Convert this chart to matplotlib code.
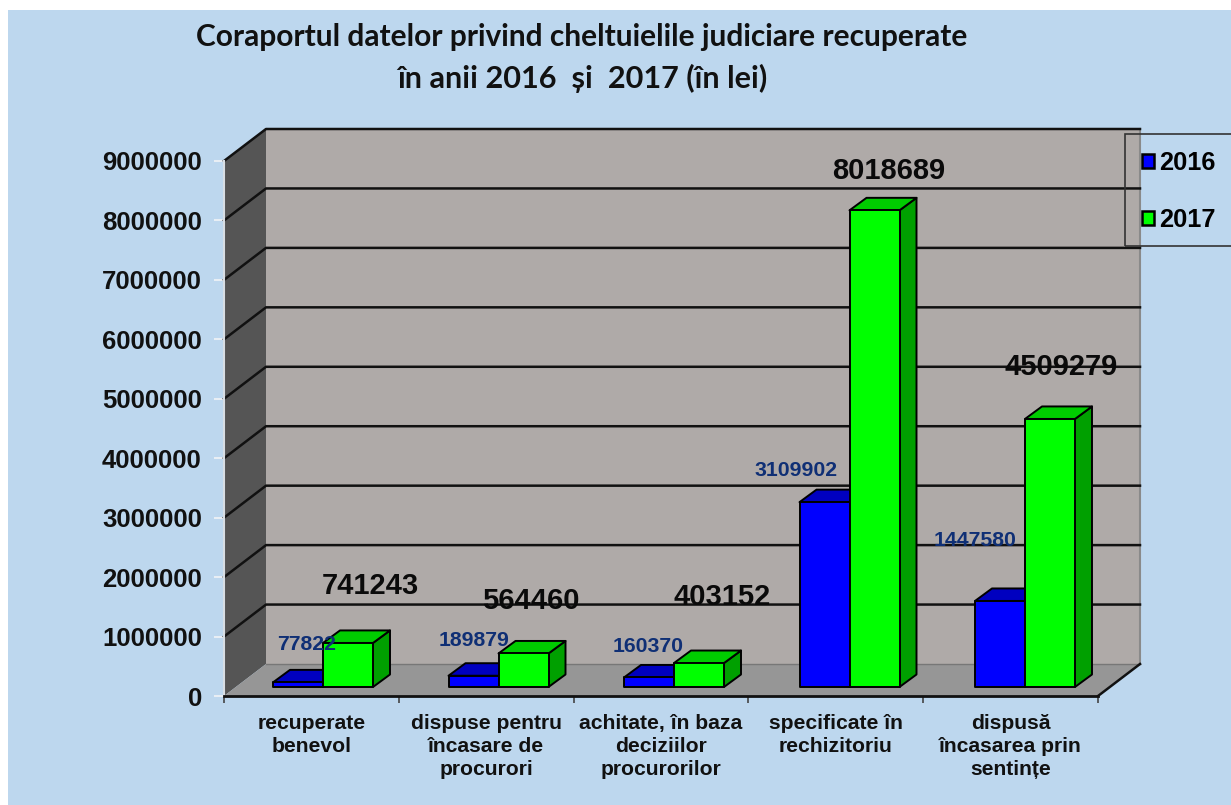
import matplotlib

matplotlib.use("Agg")

import matplotlib.pyplot as plt
from matplotlib.patches import Patch, Polygon, Rectangle
from matplotlib.transforms import Affine2D

plt.rcParams["font.family"] = ["Liberation Sans", "DejaVu Sans"]

categories = [
    "recuperate\nbenevol",
    "dispuse pentru\nîncasare de\nprocurori",
    "achitate, în baza\ndeciziilor\nprocurorilor",
    "specificate în\nrechizitoriu",
    "dispusă\nîncasarea prin\nsentințe",
]
values_2016 = [77822, 189879, 160370, 3109902, 1447580]
values_2017 = [741243, 564460, 403152, 8018689, 4509279]
y_ticks = [0, 1000000, 2000000, 3000000, 4000000, 5000000, 6000000, 7000000, 8000000, 9000000]

# hand placed label centres in the original, in pixels from top left
pos_2016 = [(307, 644), (474, 640), (648, 646), (796, 470), (975, 540)]
pos_2017 = [(370, 586), (531, 601), (722, 597), (889, 171), (1061, 367)]

W, H = 1231, 805
LEFT, RIGHT, BOTTOM, TOP = 224, 1098, 696, 161
CAT_W = (RIGHT - LEFT) / 5
UNIT_Y = 9000000 / (BOTTOM - TOP)

fig = plt.figure(figsize=(W / 100, H / 100), dpi=100, facecolor="white")
fig.patches.append(Rectangle((8 / W, 0), 1, 795 / H, transform=fig.transFigure, facecolor="#BDD7EE",
                             edgecolor="none", zorder=-1))
ax = fig.add_axes([LEFT / W, 1 - BOTTOM / H, (RIGHT - LEFT) / W, (BOTTOM - TOP) / H])
ax.set_xlim(0, 5)
ax.set_ylim(0, 9000000)
ax.patch.set_visible(False)
pixels = Affine2D().scale(1, -1).translate(0, H)


def depth(dx_px, dy_px):
    """Pixel depth offset expressed in data units."""
    return dx_px / CAT_W, dy_px * UNIT_Y


def add_poly(points, color, edge="none", lw=0.0, zorder=1):
    ax.add_patch(Polygon(points, closed=True, facecolor=color, edgecolor=edge, linewidth=lw,
                         joinstyle="round", clip_on=False, zorder=zorder))


# walls and floor
wx, wy = depth(42, 32)
add_poly([(0, 0), (wx, wy), (wx, 9000000 + wy), (0, 9000000)], "#555555")
add_poly([(wx, wy), (5 + wx, wy), (5 + wx, 9000000 + wy), (wx, 9000000 + wy)], "#AFAAA8")
add_poly([(0, 0), (5, 0), (5 + wx, wy), (wx, wy)], "#969696")
ax.plot([5 + wx, 5 + wx], [wy, 9000000 + wy], color="#8A8A8A", lw=1.5, clip_on=False, zorder=2)
ax.plot([wx, 5 + wx], [wy, wy], color="#777777", lw=1.0, clip_on=False, zorder=2)
for tick in y_ticks[1:]:
    ax.plot([0, wx, 5 + wx], [tick, tick + wy, tick + wy], color="#111111", lw=1.8, clip_on=False, zorder=2)
ax.plot([5, 5 + wx], [0, wy], color="#111111", lw=1.8, clip_on=False, zorder=2)


def draw_bar(x0, x1, value, front, top, side):
    base = 9 * UNIT_Y
    dx, dy = depth(17, 12.5)
    y0, y1 = base, base + value
    add_poly([(x1, y0), (x1 + dx, y0 + dy), (x1 + dx, y1 + dy), (x1, y1)], side, "black", 1.4, 3)
    add_poly([(x0, y1), (x1, y1), (x1 + dx, y1 + dy), (x0 + dx, y1 + dy)], top, "black", 1.4, 3)
    add_poly([(x0, y0), (x1, y0), (x1, y1), (x0, y1)], front, "black", 1.4, 3)


bar_w = 50 / CAT_W
group_step = 175.5 / CAT_W
for i, (v16, v17) in enumerate(zip(values_2016, values_2017)):
    start = i * group_step + 49 / CAT_W
    draw_bar(start, start + bar_w, v16, "#0000FF", "#0000C0", "#0000A0")
    draw_bar(start + bar_w, start + 2 * bar_w, v17, "#00FF00", "#00CC00", "#00A000")

for v, (px, py) in zip(values_2016, pos_2016):
    ax.text(px, py, str(v), transform=pixels, ha="center", va="center", color="#0F2F75",
            fontsize=15.3, fontweight="bold", zorder=5)
for v, (px, py) in zip(values_2017, pos_2017):
    ax.text(px, py, str(v), transform=pixels, ha="center", va="center", color="#0A0A0A",
            fontsize=21, fontweight="bold", zorder=5)

# axes
ax.set_yticks(y_ticks)
ax.set_yticklabels([str(t) for t in y_ticks], fontsize=18.5, fontweight="bold", color="#111111")
ax.set_xticks(range(6))
ax.set_xticklabels([])
ax.set_xticks([i + 0.5 for i in range(5)], minor=True)
ax.set_xticklabels(categories, minor=True, fontsize=15.2, fontweight="bold", color="#111111", linespacing=1.25)
ax.tick_params(axis="x", which="minor", length=0, pad=13)
ax.tick_params(axis="x", which="major", length=5, width=1.2, color="#444444")
ax.tick_params(axis="y", length=7, width=1.5, color="#E8EEF4", pad=9)
for name in ["top", "right"]:
    ax.spines[name].set_visible(False)
ax.spines["left"].set_color("#D8DEE4")
ax.spines["left"].set_linewidth(1.5)
ax.spines["bottom"].set_color("#111111")
ax.spines["bottom"].set_linewidth(2)
ax.spines["bottom"].set_zorder(4)

# title
fig.text(582 / W, 1 - 37 / H, "Coraportul datelor privind cheltuielile judiciare recuperate",
         family="Lato", fontweight="bold", fontsize=21.5, ha="center", va="center", color="#111111")
fig.text(582 / W, 1 - 78 / H, "în anii 2016  și  2017 (în lei)",
         family="Lato", fontweight="bold", fontsize=22.1, ha="center", va="center", color="#111111")

# legend box runs off the right edge in the original
fig.patches.append(Rectangle((1125 / W, 1 - 246 / H), 120 / W, 112 / H, transform=fig.transFigure,
                             facecolor="none", edgecolor="#333333", linewidth=1.2, zorder=6))
legend = fig.legend(
    handles=[Patch(facecolor="#0000FF", edgecolor="black", linewidth=1.8, label="2016"),
             Patch(facecolor="#00FF00", edgecolor="black", linewidth=1.8, label="2017")],
    loc="upper left", bbox_to_anchor=(1142 / W, 1 - 151 / H), frameon=False,
    prop={"size": 18.3, "weight": "bold"}, handlelength=0.46, handleheight=0.46,
    handletextpad=0.22, labelspacing=1.3, borderpad=0, borderaxespad=0,
)
legend.set_zorder(7)

fig.savefig("out.png", dpi=100)
plt.close(fig)
